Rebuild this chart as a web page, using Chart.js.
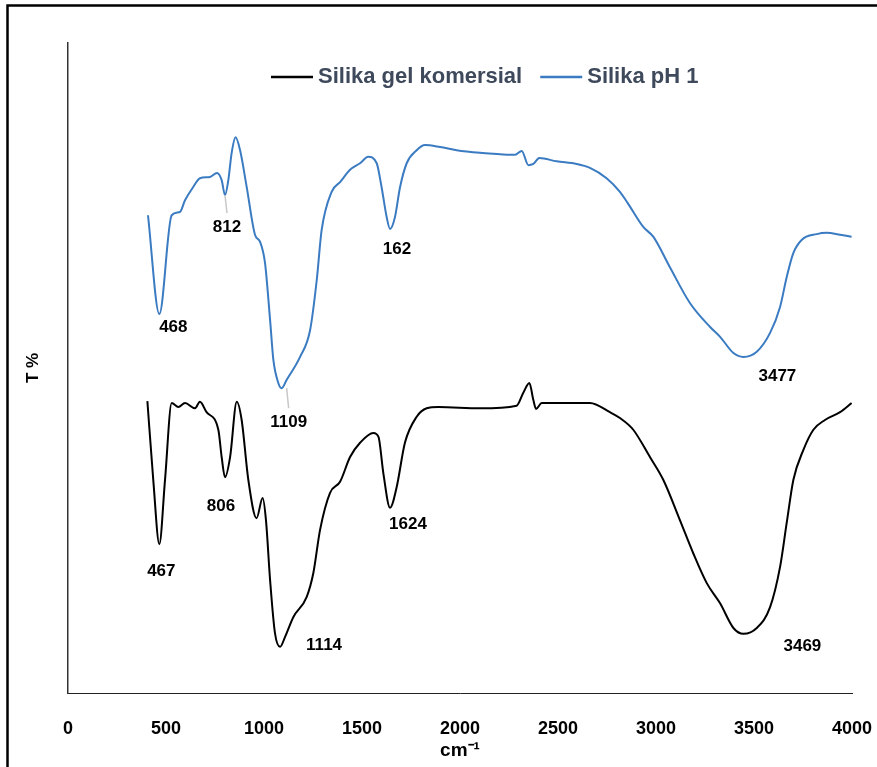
<!DOCTYPE html>
<html>
<head>
<meta charset="utf-8">
<script src="https://cdn.jsdelivr.net/npm/chart.js@4"></script>
<style>
  html, body { margin: 0; padding: 0; background: #fff; }
</style>
</head>
<body>
<canvas id="ftir-chart" width="877" height="767"></canvas>
<script>
// wavenumber (cm-1) and transmittance
const komersialWn = [405,435,466,495,529,563,597,648,673,707,767,784,801,827,861,886,920,962,993,1010,
  1031,1056,1082,1107,1150,1218,1252,1286,1337,1388,1439,1490,1558,1584,1609,1643,1677,1719,1779,1830,
  1890,2102,2289,2323,2354,2374,2388,2417,2527,2663,2765,2816,2884,2969,3037,3122,3190,3259,3327,3395,
  3446,3514,3582,3633,3667,3701,3752,3803,3862,3939,3998];
const komersialT = [44.9,32.8,22.9,32.8,44.6,44.0,44.6,43.8,44.8,43.2,40.5,36.3,33.2,36.3,44.8,42.0,32.8,26.9,30.0,26.6,
  17.4,9.2,7.1,8.6,11.7,14.8,18.5,25.1,30.8,32.5,36.3,38.5,40.0,39.4,33.8,28.5,31.7,38.5,42.5,43.8,
  44.0,43.8,44.2,46.2,47.7,45.1,43.7,44.6,44.6,44.6,43.2,42.3,40.5,36.3,32.8,26.6,21.5,16.9,13.8,10.0,
  9.1,10.0,13.2,19.4,26.2,32.8,37.4,40.5,42.0,43.2,44.6];

const ph1Wn = [408,466,529,571,597,638,673,724,760,784,801,818,835,855,878,912,954,980,1005,1031,
  1048,1073,1090,1116,1184,1235,1269,1294,1345,1388,1439,1490,1532,1575,1600,1626,1643,1668,1694,1728,
  1779,1821,1898,1983,2102,2204,2255,2281,2315,2349,2374,2405,2493,2595,2663,2748,2816,2855,2935,2986,
  3071,3173,3276,3327,3395,3446,3514,3582,3633,3667,3701,3743,3820,3871,3939,3998];
const ph1T = [73.5,58.3,73.5,74.0,75.8,77.8,79.2,79.4,80.0,78.9,76.6,78.9,83.1,85.5,83.5,77.8,70.5,69.4,66.2,57.4,
  51.2,47.7,46.9,48.2,51.7,55.8,63.5,71.2,77.1,78.6,80.5,81.5,82.5,81.5,77.8,73.2,71.4,73.2,77.8,81.5,
  83.5,84.3,84.0,83.5,83.1,82.9,82.8,82.8,83.4,81.2,81.4,82.3,81.8,81.4,80.8,79.2,77.1,75.4,71.7,70.2,
  65.5,60.0,56.3,54.8,52.3,51.7,52.5,55.4,59.4,64.0,67.7,69.7,70.6,70.8,70.5,70.2];

// peak annotations
const komersialPeakWn = [466, 801, 1082, 1643, 3446];
const komersialPeakText = ['467', '806', '1114', '1624', '3469'];
const ph1PeakWn = [466, 801, 1090, 1643, 3446];
const ph1PeakText = ['468', '812', '1109', '162', '3477'];

const xTicks = [0, 500, 1000, 1500, 2000, 2500, 3000, 3500, 4000];

const toPoints = (xs, ys) => xs.map((v, i) => ({x: v, y: ys[i]}));

// label offsets from the peak (px) and whether a leader line is drawn
const peakSets = [
  {wn: komersialPeakWn, text: komersialPeakText, xs: komersialWn, ys: komersialT,
   offsets: [[2,27,0], [-4,29,0], [44,-2,0], [18,17,0], [59,12,0]]},
  {wn: ph1PeakWn, text: ph1PeakText, xs: ph1Wn, ys: ph1T,
   offsets: [[14,13,0], [2,32,1], [7,34,1], [7,20,0], [34,19,0]]}
];

const peakLabels = {
  id: 'peakLabels',
  afterDatasetsDraw(chart) {
    const {ctx, scales: {x, y}} = chart;
    ctx.save();
    ctx.font = 'bold 17px "Liberation Sans", Arial, sans-serif';
    ctx.textAlign = 'center';
    ctx.textBaseline = 'middle';
    peakSets.forEach(set => {
      set.wn.forEach((w, i) => {
        const t = set.ys[set.xs.indexOf(w)];
        const px = x.getPixelForValue(w), py = y.getPixelForValue(t);
        const [dx, dy, lead] = set.offsets[i];
        if (lead) {
          ctx.strokeStyle = '#c8c8c8';
          ctx.lineWidth = 1.5;
          ctx.beginPath();
          ctx.moveTo(px + dx - 2, py);
          ctx.lineTo(px + dx, py + dy - 14);
          ctx.stroke();
        }
        ctx.fillStyle = '#000';
        ctx.fillText(set.text[i], px + dx, py + dy);
      });
    });
    ctx.restore();
  }
};

// legend inside the plot, drawn by hand, plus the outer frame
const topLegend = {
  id: 'topLegend',
  afterDraw(chart) {
    const ctx = chart.ctx;
    ctx.save();
    ctx.font = 'bold 22px "Liberation Sans", Arial, sans-serif';
    ctx.textBaseline = 'middle';
    let lx = chart.chartArea.left + 203;
    const ly = 77;
    chart.data.datasets.forEach(ds => {
      ctx.strokeStyle = ds.borderColor;
      ctx.lineWidth = 2.5;
      ctx.beginPath();
      ctx.moveTo(lx, ly);
      ctx.lineTo(lx + 42, ly);
      ctx.stroke();
      ctx.fillStyle = '#3E4A5C';
      ctx.fillText(ds.label, lx + 47, ly);
      lx += 47 + ctx.measureText(ds.label).width + 18;
    });
    ctx.strokeStyle = '#000';
    ctx.lineWidth = 2.5;
    ctx.strokeRect(7.5, 5.5, 900, 900);
    ctx.restore();
  }
};

new Chart(document.getElementById('ftir-chart'), {
  type: 'line',
  data: {
    datasets: [
      {
        label: 'Silika gel komersial',
        data: toPoints(komersialWn, komersialT),
        borderColor: '#000000',
        backgroundColor: '#000000',
        borderWidth: 2,
        pointRadius: 0,
        cubicInterpolationMode: 'monotone'
      },
      {
        label: 'Silika pH 1',
        data: toPoints(ph1Wn, ph1T),
        borderColor: '#3A7BC2',
        backgroundColor: '#3A7BC2',
        borderWidth: 2,
        pointRadius: 0,
        cubicInterpolationMode: 'monotone'
      }
    ]
  },
  options: {
    responsive: false,
    animation: false,
    layout: { padding: { left: 0, top: 43, right: 25, bottom: 0 } },
    plugins: {
      legend: { display: false },
      tooltip: { enabled: false }
    },
    scales: {
      x: {
        type: 'linear',
        min: 0,
        max: 4000,
        afterBuildTicks: scale => { scale.ticks = xTicks.map(v => ({value: v})); },
        afterFit: scale => {
          scale.height = 74;
          scale.paddingLeft = 0;
          scale.paddingRight = 0;
        },
        grid: { display: false, drawTicks: false },
        border: { display: true, color: '#222', width: 1 },
        ticks: {
          padding: 25,
          maxRotation: 0,
          color: '#000',
          callback: v => String(v),
          font: { family: '"Liberation Sans", Arial, sans-serif', size: 18, weight: 'bold' }
        },
        title: {
          display: true,
          text: 'cm⁻¹',
          color: '#000',
          padding: { top: 0, bottom: 5 },
          font: { family: '"Liberation Sans", Arial, sans-serif', size: 19, weight: 'bold' }
        }
      },
      y: {
        min: 0,
        max: 100,
        afterFit: scale => { scale.width = 68; },
        grid: { display: false, drawTicks: false },
        border: { display: true, color: '#333', width: 1.5 },
        ticks: { display: false },
        title: {
          display: true,
          text: 'T %',
          color: '#000',
          padding: { top: 23, bottom: 0 },
          font: { family: '"Liberation Sans", Arial, sans-serif', size: 17, weight: 'bold' }
        }
      }
    }
  },
  plugins: [peakLabels, topLegend]
});
</script>
</body>
</html>
